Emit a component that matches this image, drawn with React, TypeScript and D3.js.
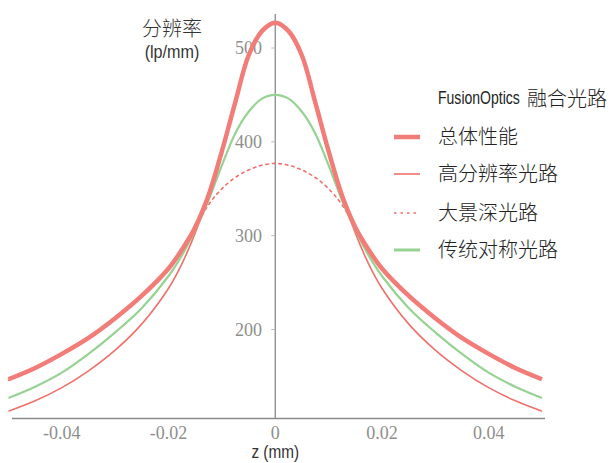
import React from "react";
import * as d3 from "d3";

const zValues = [-0.05, -0.045, -0.04, -0.035, -0.03, -0.025, -0.02, -0.0175, -0.015, -0.0125, -0.01, -0.0075, -0.005, -0.0025, 0,
  0.0025, 0.005, 0.0075, 0.01, 0.0125, 0.015, 0.0175, 0.02, 0.025, 0.03, 0.035, 0.04, 0.045, 0.05];

const totalPerf = [147, 159, 174, 191, 212, 236, 265, 285, 309, 343, 390, 442, 492, 518, 527,
  518, 492, 442, 390, 343, 309, 285, 265, 236, 212, 191, 174, 159, 147];
const highRes = [113, 124, 138, 156, 178, 206, 244, 270, 303, 343, 390, 442, 492, 518, 527,
  518, 492, 442, 390, 343, 303, 270, 244, 206, 178, 156, 138, 124, 113];
const depthOfField = [146, 158, 173, 190, 211, 235, 264, 284, 308, 333, 350, 362, 370, 375, 377,
  375, 370, 362, 350, 333, 308, 284, 264, 235, 211, 190, 173, 158, 146];
const traditional = [127, 139, 154, 174, 197, 223, 257, 279, 306, 338, 375, 409, 432, 446, 450,
  446, 432, 409, 375, 338, 306, 279, 257, 223, 197, 174, 154, 139, 127];

const xTicks = [-0.04, -0.02, 0, 0.02, 0.04];
const xTickLabels = ["-0.04", "-0.02", "0", "0.02", "0.04"];
const yTicks = [200, 300, 400, 500];

const legendTitle = "FusionOptics";
const legendTitleCjk = "融合光路";
const legendLabels = ["总体性能", "高分辨率光路", "大景深光路", "传统对称光路"];
const yTitle = "分辨率";
const yUnit = "(lp/mm)";
const xTitle = "z (mm)";

const RED = "#f27c78";
const RED_THIN = "#f0706b";
const GREEN = "#96d392";
const AXIS = "#8a8a8a";
const CJK = "'Noto Sans CJK SC', 'Noto Sans', sans-serif";
const NARROW = "'Liberation Sans Narrow', 'Liberation Sans', 'Roboto', sans-serif";
const SERIF = "'Liberation Serif', 'DejaVu Serif', serif";

export default function App() {
  const W = 612, H = 463;
  const x = d3.scaleLinear().domain([-0.05, 0.05]).range([8.5, 542]);
  const y = d3.scaleLinear().domain([200, 500]).range([329.5, 48]);
  const axisY = 418.5;
  const x0 = x(0);

  const line = (vals: number[]) =>
    d3.line<number>()
      .x((_, i) => x(zValues[i]))
      .y((v) => y(v))
      .curve(d3.curveCatmullRom.alpha(0.5))(vals) || "";

  const series = [
    { vals: depthOfField, color: RED_THIN, width: 1.6, dash: "2.5,4" },
    { vals: highRes, color: RED_THIN, width: 1.6, dash: undefined },
    { vals: traditional, color: GREEN, width: 2.2, dash: undefined },
    { vals: totalPerf, color: RED, width: 4.5, dash: undefined },
  ];

  const legendStyles = [
    { color: RED, width: 4.5, dash: undefined },
    { color: RED_THIN, width: 1.6, dash: undefined },
    { color: RED_THIN, width: 1.6, dash: "2.5,4" },
    { color: GREEN, width: 3, dash: undefined },
  ];
  const legendY = [135, 172, 211, 248];

  return (
    <svg width={W} height={H} style={{ position: "absolute", left: 0, top: 0, background: "#fff" }}>
      {/* axes */}
      <line x1={12} x2={545} y1={axisY} y2={axisY} stroke={AXIS} strokeWidth={1.3} />
      <line x1={x0} x2={x0} y1={14} y2={axisY} stroke={AXIS} strokeWidth={1.3} />
      {yTicks.map((t) => (
        <g key={t}>
          <line x1={x0 - 4} x2={x0} y1={y(t)} y2={y(t)} stroke="#bbb" strokeWidth={1} />
          <text x={262} y={y(t)} textAnchor="end" dominantBaseline="central"
            fontFamily={SERIF} fontSize={18} fill="#8e8e8e">{t}</text>
        </g>
      ))}
      {xTicks.map((t, i) => (
        <text key={t} x={x(t)} y={433} textAnchor="middle" dominantBaseline="central"
          fontFamily={SERIF} fontSize={18} fill="#8e8e8e">{xTickLabels[i]}</text>
      ))}

      {/* curves */}
      {series.map((s, i) => (
        <path key={i} d={line(s.vals)} fill="none" stroke={s.color} strokeWidth={s.width}
          strokeDasharray={s.dash} strokeLinecap={s.dash ? "round" : "butt"} />
      ))}

      {/* axis titles */}
      <text x={172} y={27} textAnchor="middle" dominantBaseline="central"
        fontFamily={CJK} fontWeight={300} fontSize={20} fill="#333">{yTitle}</text>
      <text transform="translate(172,52) scale(0.85,1)" textAnchor="middle" dominantBaseline="central"
        fontFamily={NARROW} fontSize={19} fill="#333">{yUnit}</text>
      <text transform={`translate(${x0},452.5) scale(0.85,1)`} textAnchor="middle" dominantBaseline="central"
        fontFamily={NARROW} fontSize={18} fill="#333">{xTitle}</text>

      {/* legend */}
      <text transform="translate(438,97) scale(0.78,1)" dominantBaseline="central"
        fontFamily={NARROW} fontSize={18} fill="#222">{legendTitle}</text>
      <text x={527} y={97} dominantBaseline="central"
        fontFamily={CJK} fontWeight={300} fontSize={20} fill="#222">{legendTitleCjk}</text>
      {legendLabels.map((lab, i) => (
        <g key={lab}>
          <line x1={394} x2={420} y1={legendY[i] + 2} y2={legendY[i] + 2}
            stroke={legendStyles[i].color} strokeWidth={legendStyles[i].width}
            strokeDasharray={legendStyles[i].dash} />
          <text x={438} y={legendY[i]} dominantBaseline="central"
            fontFamily={CJK} fontWeight={300} fontSize={20} fill="#222">{lab}</text>
        </g>
      ))}
    </svg>
  );
}
